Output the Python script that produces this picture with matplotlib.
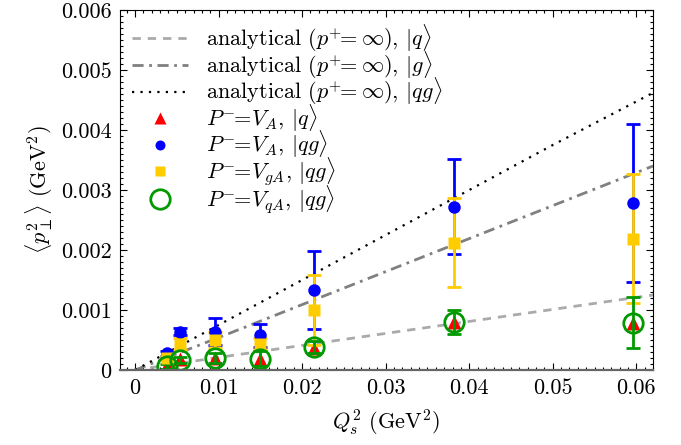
import numpy as np
import matplotlib
matplotlib.use("Agg")
import matplotlib.pyplot as plt
from matplotlib.ticker import MultipleLocator, FixedLocator, FixedFormatter

plt.rcParams['font.family'] = 'serif'
plt.rcParams['font.serif'] = ['cmr10']
plt.rcParams['mathtext.fontset'] = 'cm'
plt.rcParams['axes.formatter.use_mathtext'] = True
plt.rcParams['axes.unicode_minus'] = False

# analytical curves (p+ = infinity)
qs_line = [0.0, 0.01, 0.02, 0.03, 0.04, 0.05, 0.062]
ana_q = [0.0, 0.00021, 0.00041, 0.00061, 0.00081, 0.00101, 0.00125]
ana_g = [0.0, 0.00054, 0.00109, 0.00164, 0.00219, 0.00274, 0.00340]
ana_qg = [0.0, 0.00075, 0.00150, 0.00225, 0.00300, 0.00375, 0.00462]

# simulation points
qs = [0.0038, 0.0054, 0.0096, 0.0150, 0.0214, 0.0382, 0.0596]
va_q = [0.00008, 0.00019, 0.00020, 0.00019, 0.00036, 0.00080, 0.00079]
va_qg = [0.00028, 0.00064, 0.00064, 0.00058, 0.00134, 0.00272, 0.00278]
va_qg_err = [0.00004, 0.00006, 0.00022, 0.00019, 0.00065, 0.00079, 0.00132]
vga_qg = [0.00020, 0.00044, 0.00050, 0.00043, 0.00100, 0.00212, 0.00219]
vga_qg_err = [0.00004, 0.00010, 0.00014, 0.00010, 0.00058, 0.00074, 0.00107]
vqa_qg = [0.00006, 0.00016, 0.00020, 0.00019, 0.00039, 0.00080, 0.00079]
vqa_qg_err = [0.00004, 0.00005, 0.00008, 0.00012, 0.00010, 0.00020, 0.00043]

fs = 16

fig = plt.figure(figsize=(6.81, 4.45), dpi=100)
ax = fig.add_axes([0.1762, 0.1685, 0.7827, 0.809])

l1, = ax.plot(qs_line, ana_q, color='#aaaaaa', lw=2, dashes=(3, 2.5))
l2, = ax.plot(qs_line, ana_g, color='#808080', lw=2, dashes=(4, 2, 1, 2))
l3, = ax.plot(qs_line, ana_qg, color='black', lw=1.6, dashes=(1, 2.8))

p1, = ax.plot(qs, va_q, ls='none', marker='^', ms=10, color='red', mec='none')
e2 = ax.errorbar(qs, va_qg, yerr=va_qg_err, ls='none', marker='o', ms=9,
                 color='blue', mec='none', elinewidth=2, capsize=5, capthick=2)
e3 = ax.errorbar(qs, vga_qg, yerr=vga_qg_err, ls='none', marker='s', ms=8.5,
                 color='#ffcc00', mec='none', elinewidth=2, capsize=5, capthick=2)
e4 = ax.errorbar(qs, vqa_qg, yerr=vqa_qg_err, ls='none', marker='o', ms=14,
                 color='#009900', mfc='none', mew=2, elinewidth=2, capsize=5,
                 capthick=2)

ax.set_xlim(-0.0018, 0.062)
ax.set_ylim(0, 0.006)

xt = [0, 0.01, 0.02, 0.03, 0.04, 0.05, 0.06]
yt = [0, 0.001, 0.002, 0.003, 0.004, 0.005, 0.006]
ax.xaxis.set_major_locator(FixedLocator(xt))
ax.xaxis.set_major_formatter(FixedFormatter(['0', '0.01', '0.02', '0.03', '0.04', '0.05', '0.06']))
ax.yaxis.set_major_locator(FixedLocator(yt))
ax.yaxis.set_major_formatter(FixedFormatter(['0', '0.001', '0.002', '0.003', '0.004', '0.005', '0.006']))
ax.xaxis.set_minor_locator(MultipleLocator(0.001))
ax.yaxis.set_minor_locator(MultipleLocator(0.0001))
ax.tick_params(which='both', direction='in', top=True, right=True, labelsize=fs)
ax.tick_params(which='major', length=5, width=0.8, pad=6)
ax.tick_params(which='minor', length=2.5, width=0.8)
for s in ax.spines.values():
    s.set_linewidth(0.8)
ax.spines['bottom'].set_color('#666666')
ax.spines['bottom'].set_linewidth(1.6)

ax.set_xlabel(r'$Q_s^2$ (GeV$^2$)', fontsize=fs, labelpad=7)
ax.set_ylabel(r'$\langle p_\perp^2\rangle$ (GeV$^2$)', fontsize=fs, labelpad=4)

handles = [l1, l2, l3, p1, e2.lines[0], e3.lines[0], e4.lines[0]]
labels = [r'analytical ($p^{+}\!\!=\infty$), $|q\rangle$',
          r'analytical ($p^{+}\!\!=\infty$), $|g\rangle$',
          r'analytical ($p^{+}\!\!=\infty$), $|qg\rangle$',
          r'$P^{-}\!\!=\!V_A$, $|q\rangle$',
          r'$P^{-}\!\!=\!V_A$, $|qg\rangle$',
          r'$P^{-}\!\!=\!V_{gA}$, $|qg\rangle$',
          r'$P^{-}\!\!=\!V_{qA}$, $|qg\rangle$']
leg = ax.legend(handles, labels, loc='upper left', frameon=False, fontsize=fs,
                handlelength=2.5, labelspacing=-0.24, borderaxespad=0.35,
                handletextpad=0.8, borderpad=0.2)
for h in leg.legend_handles[3:6]:
    h.set_markersize(h.get_markersize() * 0.8)

fig.savefig('out.png', dpi=100)
